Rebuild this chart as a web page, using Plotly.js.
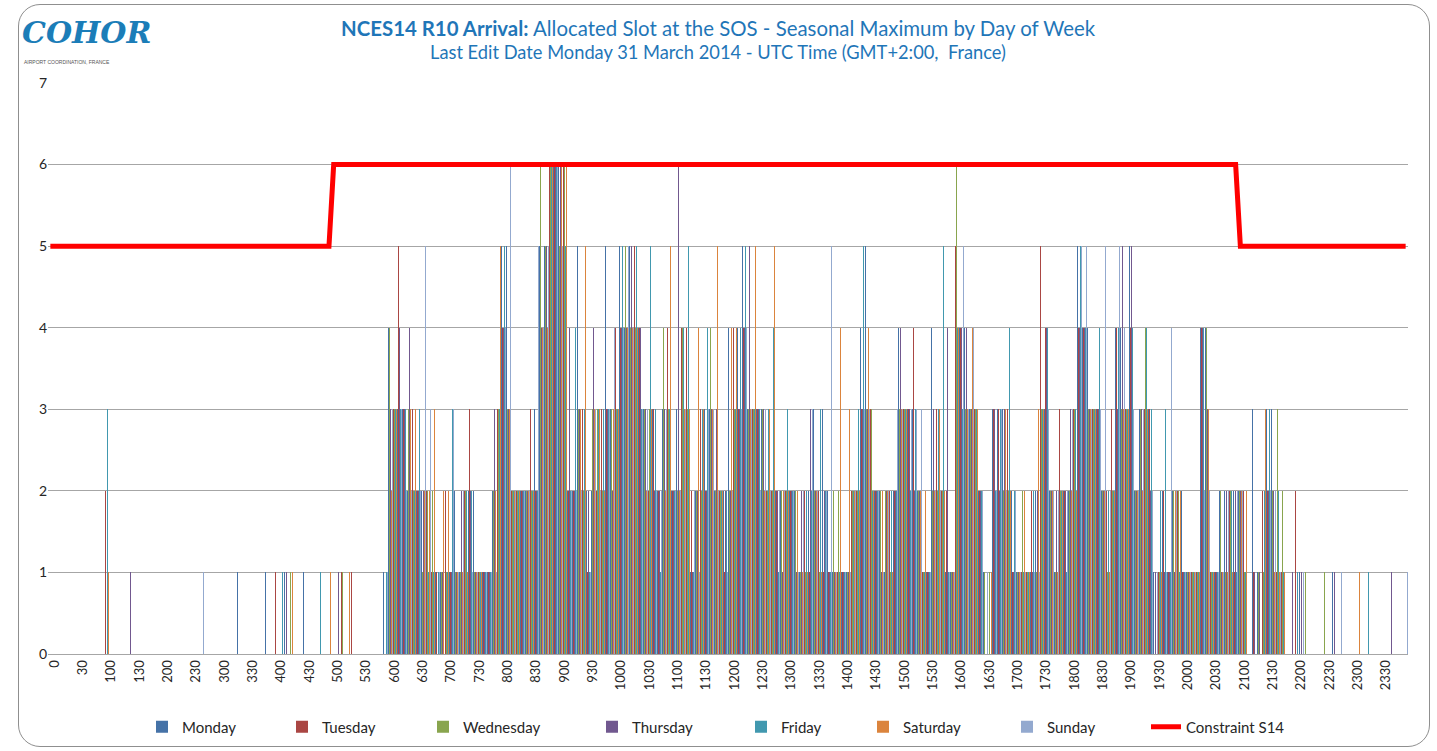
<!DOCTYPE html>
<html><head><meta charset="utf-8">
<script src="https://cdn.plot.ly/plotly-3.0.1.min.js"></script>
<style>
html,body{margin:0;padding:0;background:#fff;}
#wrap{position:relative;width:1437px;height:751px;overflow:hidden;background:#fff;}
#chart{position:absolute;left:0;top:0;width:1437px;height:751px;}
#frame{position:absolute;left:18px;top:4px;width:1410px;height:741px;border:1.5px solid #8f8f8f;border-radius:22px;pointer-events:none;}
</style></head>
<body><div id="wrap"><div id="chart"></div><div id="frame"></div></div>
<script>
// ---- axis categories (5-minute slots, HHMM) ----
const hours = [0,1,2,3,4,5,6,7,8,9,10,11,12,13,14,15,16,17,18,19,20,21,22,23];
const minutes = [0,5,10,15,20,25,30,35,40,45,50,55];
const tickLabels = ["0","30","100","130","200","230","300","330","400","430","500","530",
  "600","630","700","730","800","830","900","930","1000","1030","1100","1130",
  "1200","1230","1300","1330","1400","1430","1500","1530","1600","1630","1700","1730",
  "1800","1830","1900","1930","2000","2030","2100","2130","2200","2230","2300","2330"];

// ---- series values: one 12-digit block per hour (one digit per 5-minute slot) ----
const monday = ["000000000000","100000000000","000000000000","000010000010","001010100000","001100000011",
  "433324222211","112132211123","554222435566","652252222353","354544333233","235412333222",
  "444533333222","322122323211","114245222132","433321143211","444332113332","213212532122",
  "235443321544","352333112121","211144112212","220311331100","110000001000","000000000000"];
const tuesday = ["000000000000","200000000000","000000000000","000000000000","101000000000","001010000000",
  "335333222111","211223111123","432222325466","662243122333","445454323254","224422323321",
  "443443332222","223121221111","112234321222","333421133221","543432103323","121121542232",
  "234453332344","342233112112","121143111221","320112221100","200000000010","000000000000"];
const wednesday = ["000000000000","000000000000","000000000000","000000000000","000100000100","001000000000",
  "435332212211","111122111123","332222236566","562232233233","355443333243","224312234221",
  "236433232232","212112212122","112253312212","333321122221","643332112322","112111332122",
  "234433321243","332343011122","111134112121","210111223210","001000100000","000000000000"];
const thursday = ["000000000000","000001000000","000000000000","000000000000","001010010000","010100000000",
  "334343222201","111232111133","433322324556","664232242332","644544332232","264412323322",
  "243453332221","221233222111","112233221222","433221134241","444322013232","111212542212",
  "334433321335","452332121112","111243111212","220111221101","210000001000","000000001010"];
const friday = ["000000000000","300000000000","000000000000","000000000001","010200000100","000000000001",
  "433332321111","131122111123","542221224666","652423123334","354553353123","224511342322",
  "234533323412","322122132111","112353222122","332321123512","434332102334","231121342121",
  "235433422245","342343123121","121144112121","210012332100","100000000000","010100000000"];
const saturday = ["000000000000","100000000000","000000010000","000000000000","000100000001","000100030002",
  "233433422312","211115111225","332222244465","662235233233","334443231125","223314323522",
  "443335323522","212112211114","132244212212","333222123211","443433012432","112113332124",
  "224333321233","322233012222","211143111112","220003211100","000000000000","010000010000"];
const sunday = ["000000000000","000000000000","000000001000","000000000000","000000000000","000000000011",
  "323223253110","131221111114","462522254556","562222132334","345443332233","223321233221",
  "233433232222","221213232511","112233221223","353331122111","453442112323","211211332212",
  "335536352254","332332111421","111122111212","220001221300","010000000100","000000000001"];
const constraintS14 = ["555555555555","555555555555","555555555555","555555555555","555555555555","666666666666",
  "666666666666","666666666666","666666666666","666666666666","666666666666","666666666666",
  "666666666666","666666666666","666666666666","666666666666","666666666666","666666666666",
  "666666666666","666666666666","666666666666","555555555555","555555555555","555555555555"];

const dayNames = ["Monday","Tuesday","Wednesday","Thursday","Friday","Saturday","Sunday"];
const dayColors = ["#4572A7","#AA4643","#89A54E","#71588F","#4198AF","#DB843D","#93A9CF"];
const legendWidths = [95, 96, 124, 104, 77, 99, 94];

function parseBlocks(name, blocks){
  if(blocks.length !== 24) throw new Error(name + ': ' + blocks.length + ' hour blocks');
  blocks.forEach(function(b, i){ if(b.length !== 12) throw new Error(name + ' hour ' + i + ' has ' + b.length + ' slots'); });
  return blocks.join('').split('').map(Number);
}

const slots = [];
hours.forEach(function(h){ minutes.forEach(function(m){ slots.push(String(h*100 + m)); }); });

const dayData = [monday, tuesday, wednesday, thursday, friday, saturday, sunday];
const traces = dayData.map(function(d, i){
  return {
    type:'bar', name: dayNames[i], x: slots, y: parseBlocks(dayNames[i], d),
    marker:{color: dayColors[i], line:{width:0}}, hoverinfo:'skip', legendwidth: legendWidths[i]
  };
});
traces.push({
  type:'scatter', mode:'lines', name:'Constraint S14', x: slots, y: parseBlocks('constraint', constraintS14),
  line:{color:'#FF0000', width:5}, hoverinfo:'skip', legendwidth: 120
});

const FONT = 'Lato, "Liberation Sans", sans-serif';
const titleColor = '#1f76b8';

const layout = {
  width:1437, height:751,
  margin:{l:48, r:29, t:83, b:97, autoexpand:false},
  paper_bgcolor:'rgba(0,0,0,0)', plot_bgcolor:'rgba(0,0,0,0)',
  font:{family:FONT, color:'#262626', size:13},
  barmode:'group', bargap:0, bargroupgap:0,
  hovermode:false,
  title:{
    text:'<b>NCES14 R10 Arrival:</b> Allocated Slot at the SOS - Seasonal Maximum by Day of Week',
    font:{family:FONT, size:20.4, color:titleColor},
    x:0.4997, xref:'container', xanchor:'center',
    y:1 - 29/751, yref:'container', yanchor:'middle'
  },
  xaxis:{type:'category', range:[-0.5, 287.5], tickmode:'array', tickvals:tickLabels, ticktext:tickLabels,
    tickangle:-90, tickfont:{size:13, color:'#262626'}, showgrid:false, showline:true,
    linecolor:'#a6a6a6', linewidth:1, ticks:'', ticklabelshift:4, fixedrange:true},
  yaxis:{range:[0,7], tick0:0, dtick:1, showgrid:true, gridcolor:'#a6a6a6', gridwidth:1,
    zeroline:false, showline:false, ticks:'', tickfont:{size:14, color:'#262626'}, fixedrange:true},
  showlegend:true,
  legend:{orientation:'h', x:(142-48)/1360, xanchor:'left', y:-(727-654)/571, yanchor:'middle',
    font:{size:15, color:'#262626'}, traceorder:'normal', bgcolor:'rgba(0,0,0,0)'},
  annotations:[
    {xref:'paper', yref:'paper', x:(718-48)/1360, xanchor:'center', y:(654-52)/571, yanchor:'middle',
     text:'Last Edit Date Monday 31 March 2014 - UTC Time (GMT+2:00,  France)', showarrow:false,
     font:{family:FONT, size:18.3, color:titleColor}},
    {xref:'paper', yref:'paper', x:(20-48)/1360, xanchor:'left', y:(654-33)/571, yanchor:'middle',
     text:'<b><i>COHOR</i></b>', showarrow:false,
     font:{family:'"DejaVu Serif", serif', size:30, color:'#1b7db8'}},
    {xref:'paper', yref:'paper', x:(22-48)/1360, xanchor:'left', y:(654-62)/571, yanchor:'middle',
     text:'AIRPORT COORDINATION, FRANCE', showarrow:false,
     font:{family:'"Liberation Sans", sans-serif', size:5, color:'#555555'}}
  ]
};

Plotly.newPlot('chart', traces, layout, {staticPlot:true, displayModeBar:false});
</script>
</body></html>
